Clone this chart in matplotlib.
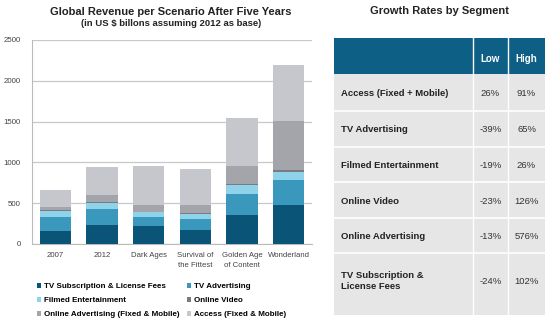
import matplotlib.pyplot as plt
import numpy as np

plt.rcParams['font.family'] = ['Liberation Sans', 'DejaVu Sans']

# scenarios and revenue by segment (US $ billions)
scenarios = ["2007", "2012", "Dark Ages", "Survival of\nthe Fittest",
             "Golden Age\nof Content", "Wonderland"]
tv_subscription = [163, 236, 220, 171, 350, 472]
tv_advertising = [162, 187, 105, 130, 268, 317]
filmed_ent = [81, 81, 65, 65, 106, 97]
online_video = [9, 8, 8, 8, 16, 16]
online_adv = [40, 90, 82, 106, 211, 610]
access = [212, 341, 475, 439, 594, 679]

segments = ["TV Subscription & License Fees", "TV Advertising",
            "Filmed Entertainment", "Online Video",
            "Online Advertising (Fixed & Mobile)", "Access (Fixed & Mobile)"]
colors = ["#0a5577", "#3b98bd", "#8ed3ea", "#7a7b80", "#a4a4ab", "#c6c6cd"]

# growth table
table_rows = ["Access (Fixed + Mobile)", "TV Advertising", "Filmed Entertainment",
              "Online Video", "Online Advertising", "TV Subscription &\nLicense Fees"]
growth_low = ["26%", "-39%", "-19%", "-23%", "-13%", "-24%"]
growth_high = ["91%", "65%", "26%", "126%", "576%", "102%"]

fig = plt.figure(figsize=(5.5, 3.23), dpi=100)
W, H = 550, 323

ax = fig.add_axes([32 / W, 1 - 244 / H, 280 / W, 204 / H])
data = [tv_subscription, tv_advertising, filmed_ent, online_video, online_adv, access]
x = np.arange(len(scenarios))
bottom = np.zeros(len(scenarios))
for vals, c, name in zip(data, colors, segments):
    ax.bar(x, vals, 0.67, bottom=bottom, color=c, label=name, zorder=3)
    bottom += np.array(vals)

ax.set_xlim(-0.5, 5.5)
ax.set_ylim(0, 2500)
ax.set_yticks([0, 500, 1000, 1500, 2000, 2500])
ax.yaxis.grid(True, color="#c8c8c8", lw=0.9, zorder=0)
ax.set_xticks(x)
ax.set_xticklabels(scenarios, fontsize=5.6, color="#444444", linespacing=1.45)
ax.tick_params(axis="y", labelsize=5.7, colors="#444444", length=0, pad=8)
ax.tick_params(axis="x", length=0, pad=6)
for s in ["top", "right"]:
    ax.spines[s].set_visible(False)
ax.spines["left"].set_color("#bbbbbb")
ax.spines["bottom"].set_color("#bbbbbb")
ax.set_facecolor("white")

fig.text(171 / W, 1 - 12 / H, "Global Revenue per Scenario After Five Years",
         ha="center", va="center", fontsize=8, fontweight="bold", color="#222222")
fig.text(171 / W, 1 - 24 / H, "(in US $ billons assuming 2012 as base)",
         ha="center", va="center", fontsize=6.8, fontweight="bold", color="#222222")

handles, labels = ax.get_legend_handles_labels()
order = [0, 2, 4, 1, 3, 5]
fig.legend([handles[i] for i in order], [labels[i] for i in order],
           loc="upper left", bbox_to_anchor=(30 / W, 1 - 276 / H), ncol=2,
           frameon=False, handlelength=0.5, handleheight=0.5,
           handletextpad=0.35, columnspacing=0.9, labelspacing=0.85,
           prop={"weight": "bold", "size": 5.8})

# table on the right
fig.text(439 / W, 1 - 11 / H, "Growth Rates by Segment", ha="center", va="center",
         fontsize=8, fontweight="bold", color="#222222")
tab = fig.add_axes([0, 0, 1, 1])
tab.set_xlim(0, W)
tab.set_ylim(H, 0)
tab.axis("off")
x0, x1, x2, x3 = 334, 473, 508, 545
row_edges = [38, 74, 111, 147, 182, 218, 253, 315]
tab.add_patch(plt.Rectangle((x0, row_edges[0]), x3 - x0, row_edges[1] - row_edges[0],
                            color="#0d5f85", lw=0))
tab.add_patch(plt.Rectangle((x0, row_edges[1]), x3 - x0, row_edges[-1] - row_edges[1],
                            color="#e6e6e6", lw=0))
for xs in [x1, x2]:
    tab.plot([xs, xs], [row_edges[0], row_edges[-1]], color="white", lw=1)
for ys in row_edges[2:-1]:
    tab.plot([x0, x3], [ys, ys], color="white", lw=1.2)
hy = (row_edges[0] + row_edges[1]) / 2 + 3
tab.text((x1 + x2) / 2, hy, "Low", ha="center", va="center", color="white",
         fontsize=7, fontweight="bold")
tab.text((x2 + x3) / 2, hy, "High", ha="center", va="center", color="white",
         fontsize=7, fontweight="bold")
for i, (name, lo, hi) in enumerate(zip(table_rows, growth_low, growth_high)):
    yc = (row_edges[i + 1] + row_edges[i + 2]) / 2 + (-3 if i == 5 else 1)
    tab.text(x0 + 7, yc, name, ha="left", va="center", fontsize=6.8,
             fontweight="bold", color="#222222", linespacing=1.3)
    tab.text((x1 + x2) / 2, yc, lo, ha="center", va="center", fontsize=6.8, color="#333333")
    tab.text((x2 + x3) / 2, yc, hi, ha="center", va="center", fontsize=6.8, color="#333333")

fig.savefig("out.png", dpi=100)
